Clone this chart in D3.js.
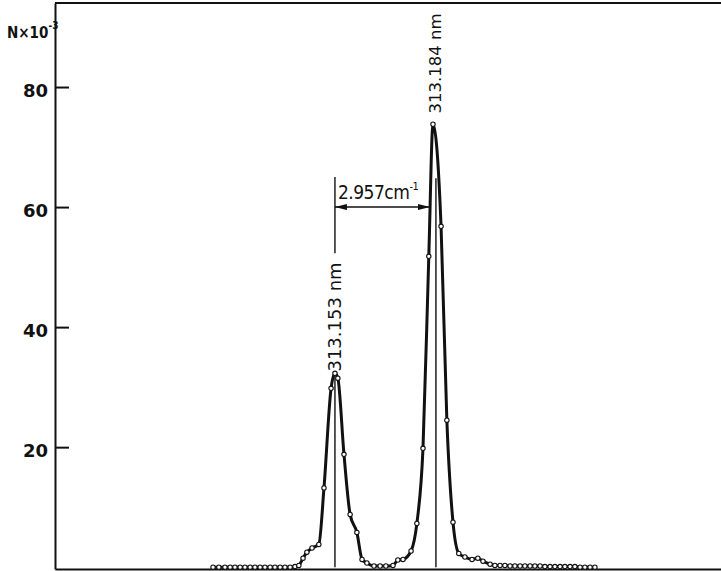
<!DOCTYPE html>
<html>
<head>
<meta charset="utf-8">
<script src="https://cdn.jsdelivr.net/npm/d3@7"></script>
<style>
  body { margin: 0; background: #fff; }
  svg { display: block; }
</style>
</head>
<body>
<div id="chart"></div>
<script>
// wavelength (nm) and counts N x 10^-3
const wavelength = [
  313.1152, 313.1170, 313.1189, 313.1205, 313.1220, 313.1236, 313.1251, 313.1267,
  313.1282, 313.1298, 313.1313, 313.1329, 313.1344, 313.1360, 313.1375, 313.1391,
  313.1406, 313.1418, 313.1431, 313.1443, 313.1459, 313.1480, 313.1496, 313.1518,
  313.1530, 313.1539, 313.1558, 313.1577, 313.1598, 313.1614, 313.1629, 313.1651,
  313.1670, 313.1688, 313.1710, 313.1725, 313.1741, 313.1766, 313.1784, 313.1803,
  313.1821, 313.1834, 313.1859, 313.1877, 313.1896, 313.1914, 313.1933, 313.1955,
  313.1973, 313.1989, 313.2011, 313.2026, 313.2042, 313.2057, 313.2073, 313.2088,
  313.2104, 313.2119, 313.2135, 313.2150, 313.2166, 313.2181, 313.2197, 313.2212,
  313.2228, 313.2243, 313.2259, 313.2274, 313.2290, 313.2305, 313.2321, 313.2336
];
const counts = [
  0.0, 0.0, 0.0, 0.0, 0.0, 0.0, 0.0, 0.0,
  0.0, 0.0, 0.0, 0.0, 0.0, 0.0, 0.0, 0.0,
  0.1, 0.3, 1.5, 2.5, 3.2, 3.8, 13.2, 29.8,
  32.3, 31.5, 18.8, 8.8, 5.8, 1.3, 0.7, 0.2,
  0.2, 0.2, 0.3, 1.2, 1.3, 2.7, 7.3, 19.8,
  51.8, 73.8, 56.8, 24.5, 7.5, 2.3, 1.7, 1.3,
  1.5, 1.0, 0.5, 0.3, 0.3, 0.3, 0.2, 0.2,
  0.2, 0.2, 0.2, 0.2, 0.2, 0.1, 0.1, 0.1,
  0.1, 0.1, 0.1, 0.1, 0.0, 0.0, 0.0, 0.0
];
const yTicks = [20, 40, 60, 80];
const lineNames = ["313.153 nm", "313.184 nm"];
const linePositions = [313.153, 313.184];
const separationLabel = "2.957cm";

const width = 721;
const height = 571;
const margin = { top: 3, right: 0, bottom: 2, left: 55 };

const svg = d3.select("#chart")
  .append("svg")
  .attr("width", width)
  .attr("height", height)
  .attr("viewBox", [0, 0, width, height]);

const x = d3.scaleLinear()
  .domain([313.0662, 313.2727])
  .range([margin.left, width - margin.right]);

const y = d3.scaleLinear()
  .domain([-0.3, 94])
  .range([height - margin.bottom, margin.top]);

const data = wavelength.map((w, i) => ({ w, n: counts[i] }));

// Frame: top line
svg.append("line")
  .attr("x1", x.range()[0]).attr("x2", x.range()[1])
  .attr("y1", y(94)).attr("y2", y(94))
  .attr("stroke", "#111").attr("stroke-width", 2);

// Bottom axis (no ticks)
svg.append("g")
  .attr("transform", `translate(0,${y.range()[0]})`)
  .call(d3.axisBottom(x).tickValues([]).tickSizeOuter(0))
  .call((g) => g.select(".domain").attr("stroke", "#111").attr("stroke-width", 2));

// Left axis, ticks pointing inward
svg.append("g")
  .attr("transform", `translate(${margin.left},0)`)
  .call(d3.axisLeft(y).tickValues(yTicks).tickSize(-14).tickSizeOuter(0).tickPadding(7))
  .call((g) => g.select(".domain").attr("stroke", "#111").attr("stroke-width", 2))
  .call((g) => g.selectAll(".tick line").attr("stroke", "#111").attr("stroke-width", 2))
  .selectAll("text")
  .attr("fill", "#111")
  .attr("dy", "0.52em")
  .style("font-family", "'DejaVu Sans', sans-serif")
  .style("font-weight", "bold")
  .style("font-size", "18px");

// Axis title
const title = svg.append("text")
  .attr("x", 7)
  .attr("y", 38)
  .attr("fill", "#111")
  .style("font-family", "'DejaVu Sans Condensed', 'DejaVu Sans', sans-serif")
  .style("font-weight", "bold")
  .style("font-size", "15px");
title.append("tspan").text("N×10");
title.append("tspan").attr("dy", -9).style("font-size", "10px").text("-3");

// Vertical marker lines
const [xa, xb] = linePositions.map((d) => x(d));
svg.append("line")
  .attr("x1", xa).attr("x2", xa)
  .attr("y1", y(65)).attr("y2", y(52.3))
  .attr("stroke", "#111").attr("stroke-width", 1.4);
svg.append("line")
  .attr("x1", xa).attr("x2", xa)
  .attr("y1", y(32)).attr("y2", y(0))
  .attr("stroke", "#111").attr("stroke-width", 1.4);
svg.append("line")
  .attr("x1", xb + 1).attr("x2", xb + 1)
  .attr("y1", y(64.8)).attr("y2", y(0))
  .attr("stroke", "#111").attr("stroke-width", 1.4);

// Separation arrow
const defs = svg.append("defs");
defs.append("marker")
  .attr("id", "arrow")
  .attr("viewBox", "0 0 12 6")
  .attr("refX", 12).attr("refY", 3)
  .attr("markerWidth", 12).attr("markerHeight", 6)
  .attr("markerUnits", "userSpaceOnUse")
  .attr("orient", "auto-start-reverse")
  .append("path")
  .attr("d", "M0,0L12,3L0,6Z")
  .attr("fill", "#111");

svg.append("line")
  .attr("x1", xa).attr("x2", xb - 5)
  .attr("y1", y(60)).attr("y2", y(60))
  .attr("stroke", "#111").attr("stroke-width", 1.4)
  .attr("marker-start", "url(#arrow)")
  .attr("marker-end", "url(#arrow)");

const sep = svg.append("text")
  .attr("x", xa + 3)
  .attr("y", y(61.3))
  .attr("fill", "#111")
  .style("font-family", "'DejaVu Sans Condensed', 'DejaVu Sans', sans-serif")
  .style("font-size", "19px")
  .style("letter-spacing", "-0.5px");
sep.append("tspan").text(separationLabel);
sep.append("tspan").attr("dy", -9).style("font-size", "11px").text("-1");

// Spectrum curve
const line = d3.line()
  .x((d) => x(d.w))
  .y((d) => y(d.n))
  .curve(d3.curveMonotoneX);

svg.append("path")
  .datum(data)
  .attr("fill", "none")
  .attr("stroke", "#111")
  .attr("stroke-width", 3)
  .attr("stroke-linejoin", "round")
  .attr("d", line);

svg.append("g")
  .selectAll("circle")
  .data(data)
  .join("circle")
  .attr("cx", (d) => x(d.w))
  .attr("cy", (d) => y(d.n))
  .attr("r", 2.2)
  .attr("fill", "#fff")
  .attr("stroke", "#111")
  .attr("stroke-width", 1.1);

// Line labels, rotated
const labelBase = [32.6, 75.6];
const labelSize = [18, 16.5];
lineNames.forEach((name, i) => {
  const lx = x(linePositions[i]);
  const ly = y(labelBase[i]);
  svg.append("text")
    .attr("transform", `translate(${lx},${ly}) rotate(-90)`)
    .attr("dy", "0.36em")
    .attr("fill", "#111")
    .style("font-family", "'DejaVu Sans', sans-serif")
    .style("font-size", `${labelSize[i]}px`)
    .text(name);
});
</script>
</body>
</html>
